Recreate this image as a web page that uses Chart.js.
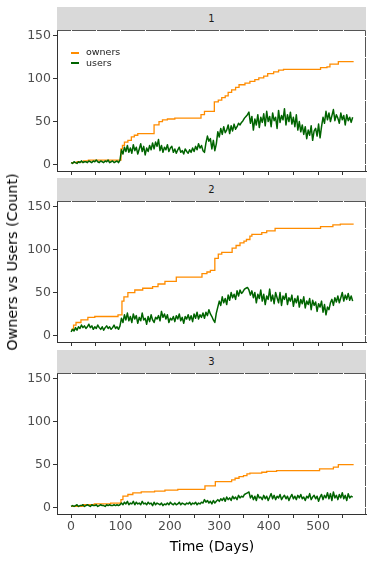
<!DOCTYPE html>
<html>
<head>
<meta charset="utf-8">
<script src="https://cdn.jsdelivr.net/npm/chart.js@4.4.1/dist/chart.umd.min.js"></script>
<style>
body { margin: 0; background: #fff; font-family: "DejaVu Sans", sans-serif; }
#page { position: relative; width: 374px; height: 561px; overflow: hidden; }
.strip { position: absolute; left: 57px; width: 309px; height: 23px; background: #d9d9d9; color: #1a1a1a; font-size: 10px; line-height: 23px; text-align: center; }
.panel { position: absolute; left: 0; }
.ytitle { position: absolute; left: 12px; top: 262px; transform: translate(-50%, -50%) rotate(-90deg); white-space: nowrap; font-size: 14.3px; color: #000; }
.xtitle { position: absolute; left: 212px; top: 546px; transform: translate(-50%, -50%); white-space: nowrap; font-size: 14px; color: #000; }
.legend { position: absolute; left: 71px; top: 47px; font-size: 9.5px; color: #1a1a1a; }
.legend div { height: 10.5px; line-height: 10.5px; }
.legend span.key { display: inline-block; width: 8px; height: 2px; vertical-align: middle; margin-right: 7px; }
</style>
</head>
<body>
<div id="page">
  <div class="strip" style="top:7px">1</div>
  <div class="strip" style="top:178px">2</div>
  <div class="strip" style="top:350px">3</div>
  <div class="panel" style="top:30px"><canvas id="panel1" width="374" height="146"></canvas></div>
  <div class="panel" style="top:201px"><canvas id="panel2" width="374" height="146"></canvas></div>
  <div class="panel" style="top:373px"><canvas id="panel3" width="374" height="167"></canvas></div>
  <div class="legend">
    <div><span class="key" style="background:#ff8c00"></span>owners</div>
    <div><span class="key" style="background:#006400"></span>users</div>
  </div>
  <div class="ytitle">Owners vs Users (Count)</div>
  <div class="xtitle">Time (Days)</div>
</div>
<script>
// users are read every 3 days (day 0 .. 570), one row = 30 days
const userStep = 3;

const users1 = [
    2, 1, 3, 2, 1, 3, 2, 4, 2, 3,
    3, 2, 4, 3, 2, 4, 3, 5, 3, 2,
    4, 3, 2, 4, 3, 5, 2, 3, 4, 2,
    3, 4, 2, 5, 17, 12, 20, 15, 22, 14,
    19, 13, 23, 16, 20, 12, 18, 24, 15, 21,
    11, 19, 15, 22, 17, 25, 18, 26, 21, 29,
    16, 22, 14, 20, 17, 23, 15, 19, 21, 14,
    18, 13, 17, 20, 14, 16, 12, 18, 15, 13,
    17, 14, 19, 15, 21, 17, 24, 19, 22, 16,
    14, 25, 33, 27, 30, 18, 28, 16, 24, 38,
    32, 42, 35, 44, 37, 40, 46, 36, 45, 39,
    47, 41, 44, 48, 46, 49, 51, 54, 56, 58,
    61, 48, 56, 40, 53, 46, 58, 43, 55, 49,
    59, 45, 62, 50, 56, 44, 60, 51, 55, 42,
    63, 49, 57, 52, 65, 46, 58, 50, 61, 47,
    55, 44, 58, 40, 50, 38, 46, 35, 44, 30,
    40, 34, 45, 28, 39, 42, 33, 47, 31, 44,
    55, 48, 62, 52, 60, 50, 57, 64, 51, 58,
    54, 48, 60, 52, 57, 46, 58, 51, 55, 49,
    55
];
const users2 = [
    4, 7, 5, 9, 6, 10, 8, 12, 9, 11,
    8, 10, 13, 9, 11, 7, 10, 8, 12, 9,
    7, 10, 6, 9, 11, 8, 10, 7, 9, 12,
    8, 10, 7, 11, 20, 15, 24, 18, 26, 17,
    22, 15, 25, 19, 23, 14, 21, 17, 26, 18,
    20, 13, 22, 16, 24, 18, 15, 21, 19, 23,
    17, 28, 21, 25, 19, 24, 15, 20, 18, 22,
    16, 23, 19, 25, 17, 21, 14, 22, 19, 24,
    18, 23, 16, 25, 20, 27, 19, 24, 21, 26,
    20, 27, 23, 30, 25, 22, 18, 15, 26, 33,
    40, 35, 45, 38, 43, 36, 47, 41, 50, 44,
    48, 42, 52, 46, 53, 49, 51, 54, 55, 56,
    53, 47, 52, 44, 50, 38, 48, 43, 53, 40,
    48, 36, 46, 42, 54, 40, 47, 37, 50, 44,
    38, 50, 35, 46, 42, 49, 36, 44, 40, 47,
    34, 43, 38, 46, 33, 42, 37, 45, 32, 40,
    36, 43, 30, 41, 35, 39, 28, 37, 33, 40,
    27, 36, 24, 33, 30, 38, 42, 35, 44, 39,
    46, 38, 44, 50, 40, 47, 42, 49, 41, 46,
    40
];
const users3 = [
    1, 2, 1, 2, 3, 1, 2, 2, 3, 1,
    2, 3, 2, 1, 3, 2, 2, 3, 1, 2,
    3, 2, 2, 1, 3, 2, 3, 2, 2, 3,
    2, 3, 2, 3, 5, 3, 6, 4, 7, 3,
    5, 4, 7, 3, 6, 4, 5, 3, 7, 4,
    5, 3, 6, 4, 5, 2, 6, 3, 5, 4,
    3, 5, 2, 4, 3, 5, 3, 6, 4, 3,
    5, 3, 4, 6, 3, 5, 4, 3, 5, 4,
    6, 3, 5, 4, 6, 3, 5, 4, 6, 5,
    9, 6, 8, 5, 7, 4, 8, 5, 7, 9,
    7, 10, 8, 11, 7, 12, 9, 11, 8, 13,
    10, 12, 9, 14, 11, 13, 12, 15, 16, 17,
    18, 11, 14, 9, 13, 8, 15, 11, 12, 9,
    14, 10, 13, 8, 12, 16, 10, 14, 9, 13,
    11, 15, 9, 12, 14, 10, 13, 8, 12, 15,
    10, 13, 9, 14, 11, 15, 10, 12, 8, 13,
    11, 16, 9, 12, 14, 10, 13, 7, 12, 15,
    9, 14, 11, 17, 10, 16, 8, 18, 11, 14,
    9, 15, 11, 17, 10, 14, 8, 16, 11, 13,
    12
];

// owners only change in steps: day where the count changes, and the new count
const ownerDays1 = [0, 12, 25, 35, 101, 104, 108, 115, 122, 128, 135, 168, 178, 185, 195, 210, 263, 270, 290, 298, 305, 312, 318, 325, 333, 340, 352, 362, 372, 380, 390, 398, 410, 420, 430, 505, 518, 524, 541, 572];
const owners1 =   [2, 3, 4, 5, 18, 22, 26, 28, 32, 34, 36, 46, 50, 52, 53, 54, 58, 62, 73, 75, 78, 80, 84, 87, 90, 93, 95, 97, 99, 101, 103, 106, 108, 110, 111, 113, 114, 117, 120, 120];

const ownerDays2 = [0, 5, 10, 20, 34, 48, 95, 103, 107, 115, 129, 145, 165, 176, 190, 213, 265, 275, 282, 291, 298, 305, 326, 334, 342, 350, 355, 362, 366, 386, 396, 413, 505, 530, 545, 572];
const owners2 =   [7, 12, 15, 18, 21, 22, 24, 40, 45, 50, 53, 55, 57, 60, 63, 68, 72, 74, 76, 90, 95, 97, 102, 105, 108, 110, 112, 116, 118, 120, 122, 125, 127, 129, 130, 130];

const ownerDays3 = [0, 24, 47, 80, 101, 105, 115, 125, 142, 169, 190, 216, 271, 292, 325, 332, 340, 349, 356, 362, 386, 396, 416, 503, 531, 541, 572];
const owners3 =   [1, 3, 4, 5, 9, 13, 15, 17, 18, 19, 20, 21, 25, 30, 32, 34, 36, 37, 39, 40, 41, 42, 43, 45, 47, 50, 50];

const yTicks = [0, 50, 100, 150];
const xTickLabels = [0, 100, 200, 300, 400, 500];

const ownersColor = '#ff8c00';
const usersColor = '#006400';

const panelBorder = {
    id: 'panelBorder',
    afterDraw(chart) {
        const {ctx, chartArea: a, scales} = chart;
        ctx.save();
        ctx.lineWidth = 1;
        ctx.strokeStyle = '#555';
        ctx.beginPath();
        ctx.moveTo(a.left, a.top + 0.5);
        ctx.lineTo(a.right - 0.5, a.top + 0.5);
        ctx.lineTo(a.right - 0.5, a.bottom);
        ctx.stroke();
        // small white breaks where the grid would meet the border
        ctx.strokeStyle = '#fff';
        ctx.beginPath();
        for (let d = 0; d <= 575; d += 50) {
            const px = Math.round(scales.x.getPixelForValue(d)) + 0.5;
            ctx.moveTo(px, a.top);
            ctx.lineTo(px, a.top + 1);
        }
        for (let v = 0; v <= 150; v += 25) {
            const py = Math.round(scales.y.getPixelForValue(v)) + 0.5;
            ctx.moveTo(a.right - 1, py);
            ctx.lineTo(a.right, py);
        }
        ctx.stroke();
        ctx.restore();
    }
};

const makePanel = (id, users, ownerDays, owners, bottom) => {
    const usersData = users.map((v, i) => ({x: i * userStep, y: v}));
    const ownersData = ownerDays.map((d, i) => ({x: d, y: owners[i]}));
    return new Chart(document.getElementById(id), {
        type: 'line',
        data: {
            datasets: [
                {
                    label: 'users',
                    data: usersData,
                    borderColor: usersColor,
                    borderWidth: 1.5,
                    borderJoinStyle: 'round',
                    pointRadius: 0,
                    tension: 0
                },
                {
                    label: 'owners',
                    data: ownersData,
                    borderColor: ownersColor,
                    borderWidth: 1.3,
                    pointRadius: 0,
                    stepped: 'before'
                }
            ]
        },
        options: {
            responsive: false,
            animation: false,
            devicePixelRatio: 1,
            layout: {padding: {left: 0, right: 8, top: 0, bottom: 0}},
            plugins: {
                legend: {display: false},
                tooltip: {enabled: false}
            },
            scales: {
                x: {
                    type: 'linear',
                    min: -28.5,
                    max: 597,
                    grid: {drawOnChartArea: false, tickLength: 4, color: '#333'},
                    border: {display: true, color: '#333', width: 1},
                    ticks: {
                        stepSize: 50,
                        includeBounds: false,
                        autoSkip: false,
                        maxRotation: 0,
                        padding: 1,
                        color: '#4d4d4d',
                        font: {family: 'DejaVu Sans', size: 12.5},
                        callback: v => (bottom && xTickLabels.includes(v)) ? String(v) : ''
                    },
                    afterFit: s => {
                        s.height = bottom ? 26 : 5;
                        s.paddingLeft = 0;
                        s.paddingRight = 0;
                    }
                },
                y: {
                    min: -7.8,
                    max: 157,
                    grid: {drawOnChartArea: false, tickLength: 4, color: '#333'},
                    border: {display: true, color: '#333', width: 1},
                    ticks: {
                        stepSize: 50,
                        includeBounds: false,
                        padding: 2,
                        color: '#4d4d4d',
                        font: {family: 'DejaVu Sans', size: 12.5},
                        callback: v => yTicks.includes(v) ? String(v) : ''
                    },
                    afterFit: s => {
                        s.width = 57;
                        s.paddingTop = 0;
                        s.paddingBottom = 0;
                    }
                }
            }
        },
        plugins: [panelBorder]
    });
}

makePanel('panel1', users1, ownerDays1, owners1, false);
makePanel('panel2', users2, ownerDays2, owners2, false);
makePanel('panel3', users3, ownerDays3, owners3, true);
</script>
</body>
</html>
